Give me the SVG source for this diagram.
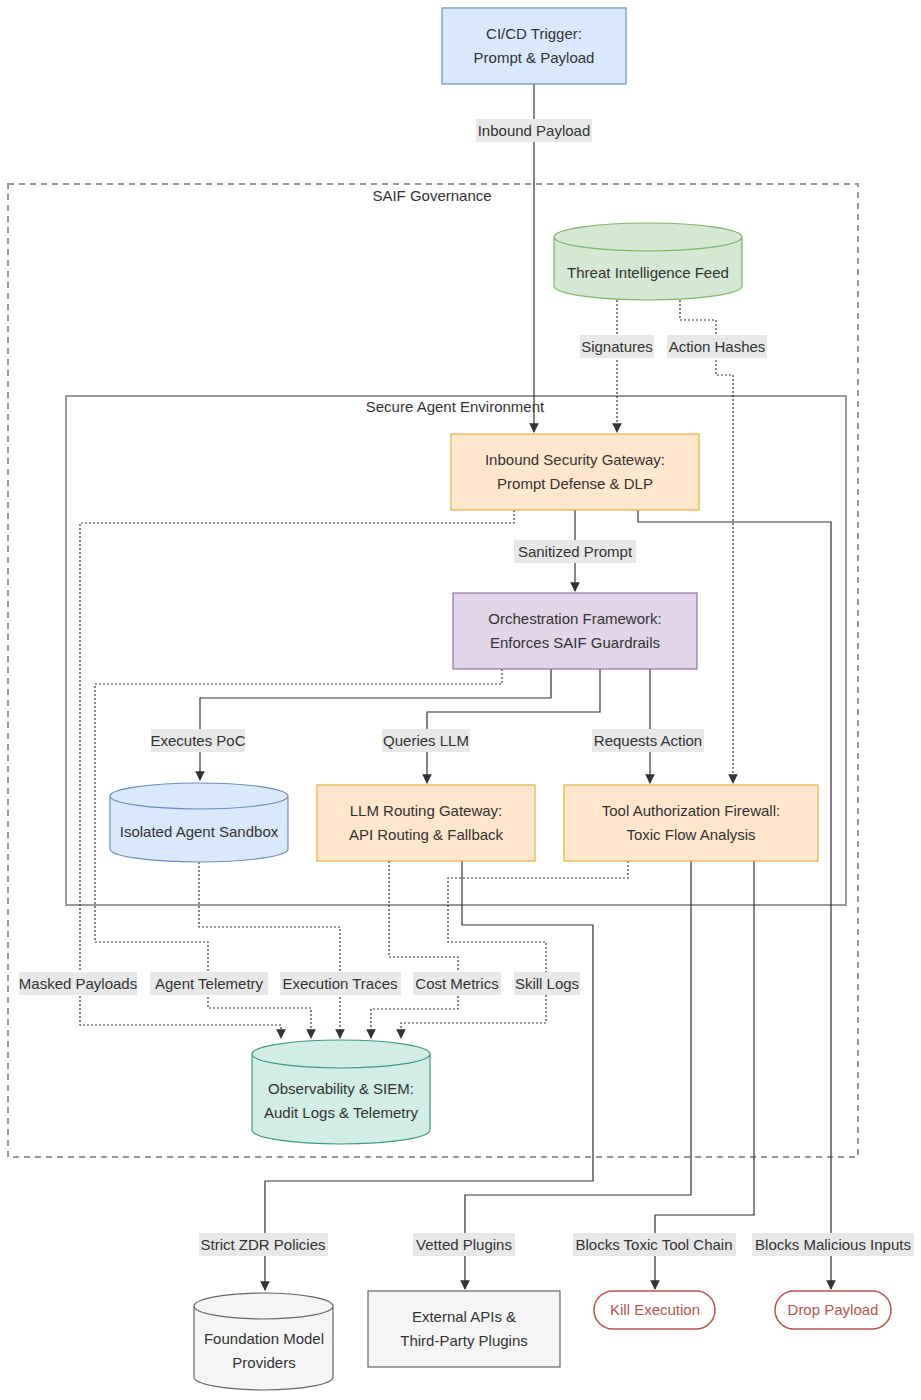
<svg xmlns="http://www.w3.org/2000/svg" width="921" height="1400" viewBox="0 0 921 1400">
<defs>
<marker id="arr" viewBox="0 0 10 10" refX="9" refY="5" markerWidth="8" markerHeight="8" orient="auto"><path d="M0,0 L10,5 L0,10 z" fill="#333"/></marker>
<style>
text{font-family:"Liberation Sans",Arial,sans-serif;font-size:15px;fill:#333;text-anchor:middle}
.e{fill:none;stroke:#333;stroke-width:1.2;marker-end:url(#arr)}
.d{stroke-dasharray:2 2}
.lb{fill:#e8e8e8}
.o{fill:#ffe6cc;stroke:#e5b13f;stroke-width:1.2}
.g{fill:#f5f5f5;stroke:#666;stroke-width:1.2}
.r{fill:#fff;stroke:#b85450;stroke-width:1.5}
.rt{fill:#b85450}
</style>
</defs>
<rect width="921" height="1400" fill="#fff"/>
<g id="saif"><rect x="8" y="184" width="850" height="973" fill="none" stroke="#999" stroke-width="2" stroke-dasharray="6 5"/><text x="432" y="201">SAIF Governance</text></g>
<g id="secure"><rect x="66" y="396" width="780" height="509" fill="none" stroke="#999" stroke-width="2"/><text x="455" y="412">Secure Agent Environment</text></g>

<g id="connectors">
<path class="e" d="M534,84 V432"/>
<path class="e d" d="M617,300 V432"/>
<path class="e d" d="M680,300 V320 H716 V375 H733 V783"/>
<path class="e" d="M575,510 V591"/>
<path class="e d" d="M514,510 V523 H80 V1025 H281 V1038"/>
<path class="e" d="M638,510 V522 H831 V1289"/>
<path class="e" d="M551,669 V698 H200 V780"/>
<path class="e" d="M600,669 V712 H427 V783"/>
<path class="e" d="M650,669 V783"/>
<path class="e d" d="M502,669 V684 H95 V942 H208 V1008 H311 V1038"/>
<path class="e d" d="M199,862 V927 H340 V1038"/>
<path class="e d" d="M389,861 V957 H458 V1009 H371 V1038"/>
<path class="e" d="M462,861 V925 H593 V1181 H265 V1290"/>
<path class="e d" d="M628,861 V878 H448 V942 H546 V1023 H401 V1038"/>
<path class="e" d="M691,861 V1195 H465 V1289"/>
<path class="e" d="M754,861 V1215 H655 V1289"/>
<rect class="lb" x="476" y="119" width="116" height="23"/><text x="534" y="136">Inbound Payload</text>
<rect class="lb" x="580" y="335" width="74" height="23"/><text x="617" y="352">Signatures</text>
<rect class="lb" x="667" y="335" width="100" height="23"/><text x="717" y="352">Action Hashes</text>
<rect class="lb" x="514" y="540" width="122" height="23"/><text x="575" y="557">Sanitized Prompt</text>
<rect class="lb" x="151" y="729" width="94" height="23"/><text x="198" y="746">Executes PoC</text>
<rect class="lb" x="382" y="729" width="88" height="23"/><text x="426" y="746">Queries LLM</text>
<rect class="lb" x="592" y="729" width="112" height="23"/><text x="648" y="746">Requests Action</text>
<rect class="lb" x="19" y="972" width="118" height="23"/><text x="78" y="989">Masked Payloads</text>
<rect class="lb" x="150" y="972" width="118" height="23"/><text x="209" y="989">Agent Telemetry</text>
<rect class="lb" x="280" y="972" width="121" height="23"/><text x="340" y="989">Execution Traces</text>
<rect class="lb" x="413" y="972" width="88" height="23"/><text x="457" y="989">Cost Metrics</text>
<rect class="lb" x="514" y="972" width="66" height="23"/><text x="547" y="989">Skill Logs</text>
<rect class="lb" x="199" y="1233" width="129" height="23"/><text x="263" y="1250">Strict ZDR Policies</text>
<rect class="lb" x="413" y="1233" width="102" height="23"/><text x="464" y="1250">Vetted Plugins</text>
<rect class="lb" x="573" y="1233" width="163" height="23"/><text x="654" y="1250">Blocks Toxic Tool Chain</text>
<rect class="lb" x="752" y="1233" width="162" height="23"/><text x="833" y="1250">Blocks Malicious Inputs</text>
</g>

<g id="cicd"><rect x="442" y="8" width="184" height="76" fill="#dae8fc" stroke="#6c8ebf" stroke-width="1.2"/><text x="534" y="39">CI/CD Trigger:</text><text x="534" y="63">Prompt &amp; Payload</text></g>
<g id="threat"><path d="M554,237 V286 A94,14 0 0 0 742,286 V237 A94,14 0 0 0 554,237 A94,14 0 0 0 742,237" fill="#d5e8d4" stroke="#82b366" stroke-width="1.2"/><text x="648" y="278">Threat Intelligence Feed</text></g>
<g id="gateway"><rect class="o" x="451" y="434" width="248" height="76"/><text x="575" y="465">Inbound Security Gateway:</text><text x="575" y="489">Prompt Defense &amp; DLP</text></g>
<g id="orch"><rect x="453" y="593" width="244" height="76" fill="#e1d5e7" stroke="#9673a6" stroke-width="1.2"/><text x="575" y="624">Orchestration Framework:</text><text x="575" y="648">Enforces SAIF Guardrails</text></g>
<g id="sandbox"><path d="M110,796 V849 A89,13 0 0 0 288,849 V796 A89,13 0 0 0 110,796 A89,13 0 0 0 288,796" fill="#dae8fc" stroke="#6c8ebf" stroke-width="1.2"/><text x="199" y="837">Isolated Agent Sandbox</text></g>
<g id="llm"><rect class="o" x="317" y="785" width="218" height="76"/><text x="426" y="816">LLM Routing Gateway:</text><text x="426" y="840">API Routing &amp; Fallback</text></g>
<g id="tool"><rect class="o" x="564" y="785" width="254" height="76"/><text x="691" y="816">Tool Authorization Firewall:</text><text x="691" y="840">Toxic Flow Analysis</text></g>
<g id="obs"><path d="M252,1054 V1130 A89,14 0 0 0 430,1130 V1054 A89,14 0 0 0 252,1054 A89,14 0 0 0 430,1054" fill="#d1ede6" stroke="#3f9a83" stroke-width="1.2"/><text x="341" y="1094">Observability &amp; SIEM:</text><text x="341" y="1118">Audit Logs &amp; Telemetry</text></g>
<g id="foundation"><path d="M194,1306 V1377 A69.5,13 0 0 0 333,1377 V1306 A69.5,13 0 0 0 194,1306 A69.5,13 0 0 0 333,1306" class="g"/><text x="264" y="1344">Foundation Model</text><text x="264" y="1368">Providers</text></g>
<g id="external"><rect class="g" x="368" y="1291" width="192" height="76"/><text x="464" y="1322">External APIs &amp;</text><text x="464" y="1346">Third-Party Plugins</text></g>
<g id="kill"><rect class="r" x="594" y="1291" width="121" height="38" rx="19"/><text class="rt" x="655" y="1315">Kill Execution</text></g>
<g id="drop"><rect class="r" x="775" y="1291" width="116" height="38" rx="19"/><text class="rt" x="833" y="1315">Drop Payload</text></g>
</svg>
